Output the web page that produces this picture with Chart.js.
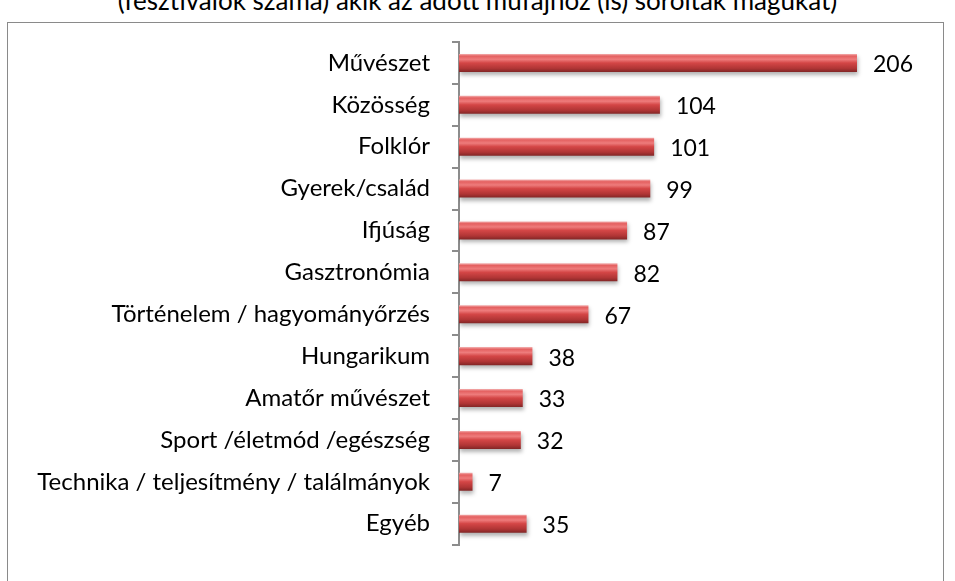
<!DOCTYPE html>
<html>
<head>
<meta charset="utf-8">
<script src="https://cdn.jsdelivr.net/npm/chart.js@4.4.1/dist/chart.umd.min.js"></script>
<style>
  html, body { margin: 0; padding: 0; background: #fff; }
  #wrap { position: relative; width: 955px; height: 581px; overflow: hidden; }
  #frame { position: absolute; left: 7px; top: 22px; width: 937px; height: 600px; border: 1px solid #8a8a8a; box-sizing: border-box; }
  #title { position: absolute; left: 0; width: 955px; top: -16px; text-align: center; font: 26px Lato, sans-serif; color: #000; white-space: nowrap; }
  canvas { position: absolute; left: 0; top: 0; }
</style>
</head>
<body>
<div id="wrap">
  <div id="frame"></div>
  <div id="title">(fesztiválok száma) akik az adott műfajhoz (is) sorolták magukat)</div>
  <canvas id="chart" width="955" height="581"></canvas>
</div>
<script>
// műfajok és a fesztiválok száma
const categories = [
  "Művészet",
  "Közösség",
  "Folklór",
  "Gyerek/család",
  "Ifjúság",
  "Gasztronómia",
  "Történelem / hagyományőrzés",
  "Hungarikum",
  "Amatőr művészet",
  "Sport /életmód /egészség",
  "Technika / teljesítmény / találmányok",
  "Egyéb",
];
const festivalCounts = [206, 104, 101, 99, 87, 82, 67, 38, 33, 32, 7, 35];
const axisMax = 250;

const LABEL_FONT = "Lato, sans-serif";

// 3D-ish bar look: vertical gradient per bar + soft shadow
const barLook = {
  id: "barLook",
  beforeDatasetDraw(chart, args) {
    const ctx = chart.ctx;
    args.meta.data.forEach((bar) => {
      const top = bar.y - bar.height / 2;
      const bottom = bar.y + bar.height / 2;
      const g = ctx.createLinearGradient(0, top, 0, bottom);
      g.addColorStop(0, "#f3b0b0");
      g.addColorStop(0.12, "#e46060");
      g.addColorStop(0.3, "#ee7c7c");
      g.addColorStop(0.5, "#d44646");
      g.addColorStop(0.8, "#b03535");
      g.addColorStop(1, "#822626");
      bar.options.backgroundColor = g;
    });
    ctx.save();
    ctx.shadowColor = "rgba(0,0,0,0.3)";
    ctx.shadowOffsetX = 1;
    ctx.shadowOffsetY = 3;
    ctx.shadowBlur = 4;
  },
  afterDatasetDraw(chart) {
    chart.ctx.restore();
  },
};

// value labels to the right of each bar
const valueLabels = {
  id: "valueLabels",
  afterDatasetsDraw(chart) {
    const ctx = chart.ctx;
    const meta = chart.getDatasetMeta(0);
    ctx.save();
    ctx.font = "23px " + LABEL_FONT;
    ctx.fillStyle = "#000";
    ctx.textAlign = "left";
    ctx.textBaseline = "middle";
    meta.data.forEach((bar, i) => {
      ctx.fillText(String(festivalCounts[i]), bar.x + 16, bar.y + 2);
    });
    ctx.restore();
  },
};

new Chart(document.getElementById("chart").getContext("2d"), {
  type: "bar",
  data: {
    labels: categories,
    datasets: [
      {
        data: festivalCounts,
        // scriptable so every bar gets its own options object
        backgroundColor: (c) => "#d04848",
        borderWidth: 0,
        categoryPercentage: 1,
        barPercentage: 0.43,
      },
    ],
  },
  options: {
    indexAxis: "y",
    responsive: false,
    animation: false,
    layout: { padding: { top: 42, bottom: 23, right: 13, left: 0 } },
    plugins: {
      legend: { display: false },
      tooltip: { enabled: false },
    },
    scales: {
      x: { display: false, min: 0, max: axisMax },
      y: {
        afterFit(scale) {
          scale.width = 459;
        },
        border: { display: true, color: "#8c8c8c", width: 2 },
        grid: {
          offset: true,
          drawOnChartArea: false,
          drawTicks: true,
          tickLength: 7,
          color: "#8c8c8c",
          lineWidth: 2,
        },
        ticks: {
          padding: 22,
          color: "#000",
          font: { family: LABEL_FONT, size: 24 },
        },
      },
    },
  },
  plugins: [barLook, valueLabels],
});
</script>
</body>
</html>
